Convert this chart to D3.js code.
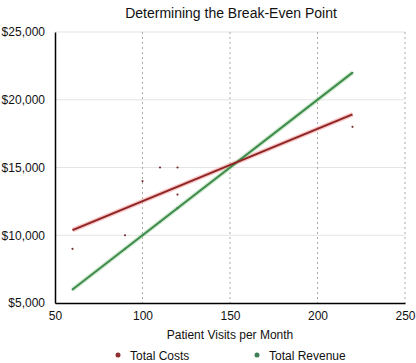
<!DOCTYPE html>
<html><head><meta charset="utf-8">
<script src="https://cdn.jsdelivr.net/npm/d3@7"></script>
<style>
body{margin:0;background:#fff;}
text{font-family:"Liberation Sans",Arial,Helvetica,sans-serif;fill:#111;}
</style></head>
<body><svg id="c" width="416" height="363"></svg>
<script>
const visits = [60, 90, 100, 110, 120, 120, 220];
const totalCosts = [9000, 10000, 14000, 15000, 15000, 13000, 18000];
const totalRevenue = [6000, 9000, 10000, 11000, 12000, 12000, 22000];
const xTicks = [50, 100, 150, 200, 250];
const yTicks = [5000, 10000, 15000, 20000, 25000];
const seriesNames = ["Total Costs", "Total Revenue"];
const title = "Determining the Break-Even Point";
const xLabel = "Patient Visits per Month";

const svg = d3.select("#c");
const L = 55, R = 405, T = 32, B = 303;
const x = d3.scaleLinear().domain([50, 250]).range([L, R]);
const y = d3.scaleLinear().domain([5000, 25000]).range([B, T]);

// gridlines
svg.append("g").selectAll("line").data(yTicks.filter(d => d > 5000)).join("line")
  .attr("x1", L).attr("x2", R).attr("y1", d => y(d)).attr("y2", d => y(d))
  .attr("stroke", "#e4e4e4").attr("stroke-width", 1);
svg.append("g").selectAll("line").data(xTicks.filter(d => d > 50)).join("line")
  .attr("x1", d => x(d)).attr("x2", d => x(d)).attr("y1", T).attr("y2", B)
  .attr("stroke", "#aaa").attr("stroke-width", 1).attr("stroke-dasharray", "2,3");

// axes
const xa = svg.append("g").attr("transform", `translate(0,${B})`)
  .call(d3.axisBottom(x).tickValues(xTicks).tickSize(0).tickPadding(8));
xa.select(".domain").attr("stroke", "#000").attr("stroke-width", 1.5);
xa.selectAll("text").attr("font-size", 12).attr("fill", "#111");
const ya = svg.append("g").attr("transform", `translate(${L},0)`)
  .call(d3.axisLeft(y).tickValues(yTicks).tickSize(0).tickPadding(10).tickFormat(d => "$" + d3.format(",")(d)));
ya.select(".domain").attr("stroke", "#000").attr("stroke-width", 1.5);
ya.selectAll("text").attr("font-size", 12).attr("fill", "#111");

// regression
function fit(xs, ys) {
  const mx = d3.mean(xs), my = d3.mean(ys);
  let sxy = 0, sxx = 0;
  xs.forEach((v, i) => { sxy += (v - mx) * (ys[i] - my); sxx += (v - mx) * (v - mx); });
  const b = sxy / sxx, a = my - b * mx;
  const ext = d3.extent(xs);
  return ext.map(v => [v, a + b * v]);
}
const line = d3.line().x(d => x(d[0])).y(d => y(d[1]));
const costFit = fit(visits, totalCosts);
const revFit = fit(visits, totalRevenue);

svg.append("path").datum(costFit).attr("d", line).attr("fill", "none")
  .attr("stroke", "#f2a0a0").attr("stroke-width", 4.5).attr("opacity", 0.6);
svg.append("path").datum(revFit).attr("d", line).attr("fill", "none")
  .attr("stroke", "#a8d8a8").attr("stroke-width", 4.5).attr("opacity", 0.5);
svg.append("path").datum(revFit).attr("d", line).attr("fill", "none")
  .attr("stroke", "#3f8c4c").attr("stroke-width", 2);
svg.append("path").datum(costFit).attr("d", line).attr("fill", "none")
  .attr("stroke", "#8e2424").attr("stroke-width", 2);

// points
svg.append("g").selectAll("circle").data(visits.map((v, i) => [v, totalRevenue[i]])).join("circle")
  .attr("cx", d => x(d[0])).attr("cy", d => y(d[1])).attr("r", 1).attr("fill", "#3f8c4c");
svg.append("g").selectAll("circle").data(visits.map((v, i) => [v, totalCosts[i]])).join("circle")
  .attr("cx", d => x(d[0])).attr("cy", d => y(d[1])).attr("r", 1.1).attr("fill", "#7a3030");

// title and labels
svg.append("text").attr("x", 231).attr("y", 18).attr("text-anchor", "middle")
  .attr("font-size", 14).text(title);
svg.append("text").attr("x", 230).attr("y", 339).attr("text-anchor", "middle")
  .attr("font-size", 12).text(xLabel);

// legend
const legX = [118, 257];
const legColors = ["#8e2e2e", "#3f7f55"];
const lg = svg.append("g").selectAll("g").data(seriesNames).join("g")
  .attr("transform", (d, i) => `translate(${legX[i]},355)`);
lg.append("circle").attr("r", 2.5).attr("fill", (d, i) => legColors[i]);
lg.append("text").attr("x", 12).attr("y", 4.5).attr("font-size", 12).text(d => d);
</script></body></html>
